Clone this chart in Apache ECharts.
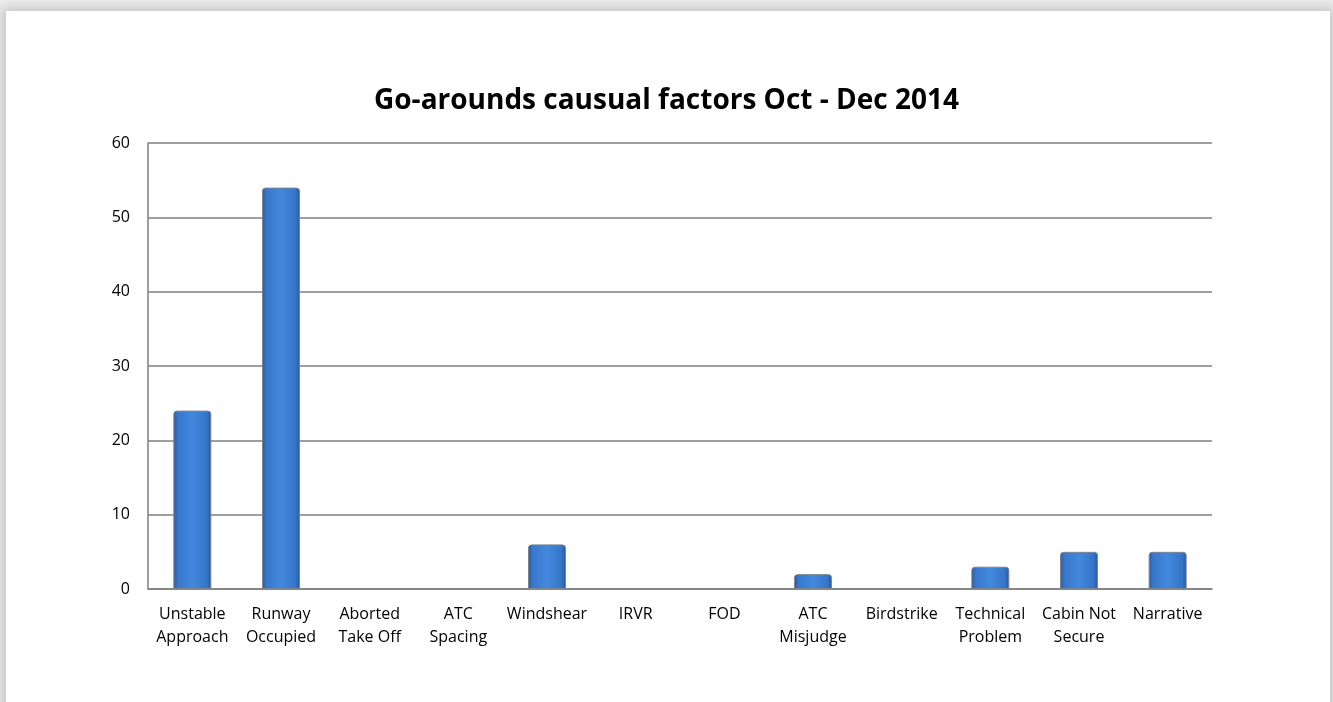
<!DOCTYPE html>
<html>
<head>
<meta charset="utf-8">
<script src="https://cdn.jsdelivr.net/npm/echarts@6/dist/echarts.min.js"></script>
<style>
  html, body { margin: 0; padding: 0; width: 1333px; height: 702px; overflow: hidden; background: #ececec; }
  #card { position: absolute; left: 6px; top: 11px; width: 1324px; height: 720px; background: #fff;
          box-shadow: 0 0 10px 3px rgba(0,0,0,0.18); }
  #chart { position: absolute; left: 0; top: 0; width: 1333px; height: 702px; }
</style>
</head>
<body>
<div id="card"></div>
<div id="chart"></div>
<script>
// Go-around causes, Oct - Dec 2014
const titleText = 'Go-arounds causual factors Oct - Dec 2014';
const categories = [
  'Unstable\nApproach', 'Runway\nOccupied', 'Aborted\nTake Off', 'ATC\nSpacing',
  'Windshear', 'IRVR', 'FOD', 'ATC\nMisjudge', 'Birdstrike',
  'Technical\nProblem', 'Cabin Not\nSecure', 'Narrative'
];
const counts = [24, 54, 0, 0, 6, 0, 0, 2, 0, 3, 5, 5];
const yTicks = { min: 0, max: 60, interval: 10 };

const font = '"Open Sans", "Liberation Sans", sans-serif';
const chart = echarts.init(document.getElementById('chart'), null, { renderer: 'canvas' });

const barFill = new echarts.graphic.LinearGradient(0, 0, 1, 0, [
  { offset: 0, color: '#2a5aa0' },
  { offset: 0.12, color: '#3877cc' },
  { offset: 0.5, color: '#4289dd' },
  { offset: 0.88, color: '#3675c8' },
  { offset: 1, color: '#27569a' }
]);

// empty categories get no outline so nothing shows on the baseline
const barData = counts.map(v => v === 0 ? { value: v, itemStyle: { borderWidth: 0 } } : v);

chart.setOption({
  backgroundColor: 'transparent',
  animation: false,
  title: {
    text: titleText,
    left: 'center',
    top: 82,
    textStyle: { fontFamily: font, fontWeight: 'bold', fontSize: 28, color: '#000' }
  },
  grid: { left: 148, right: 121, top: 143, bottom: 113, containLabel: false },
  xAxis: {
    type: 'category',
    data: categories,
    axisLine: { show: true, lineStyle: { color: '#7f7f7f', width: 1.5 } },
    axisTick: { show: false },
    axisLabel: {
      interval: 0, color: '#000', fontFamily: font, fontSize: 16,
      lineHeight: 23, margin: 14
    }
  },
  yAxis: {
    type: 'value',
    min: yTicks.min, max: yTicks.max, interval: yTicks.interval,
    axisLine: { show: true, lineStyle: { color: '#7f7f7f', width: 1.5 } },
    axisTick: { show: false },
    splitLine: { show: true, lineStyle: { color: '#7f7f7f', width: 1.5 } },
    axisLabel: { color: '#000', fontFamily: font, fontSize: 16, margin: 18 }
  },
  series: [{
    type: 'bar',
    data: barData,
    barWidth: 38,
    itemStyle: {
      color: barFill,
      borderColor: '#7d8590',
      borderWidth: 1,
      borderRadius: [3, 3, 0, 0]
    }
  }]
});
</script>
</body>
</html>
